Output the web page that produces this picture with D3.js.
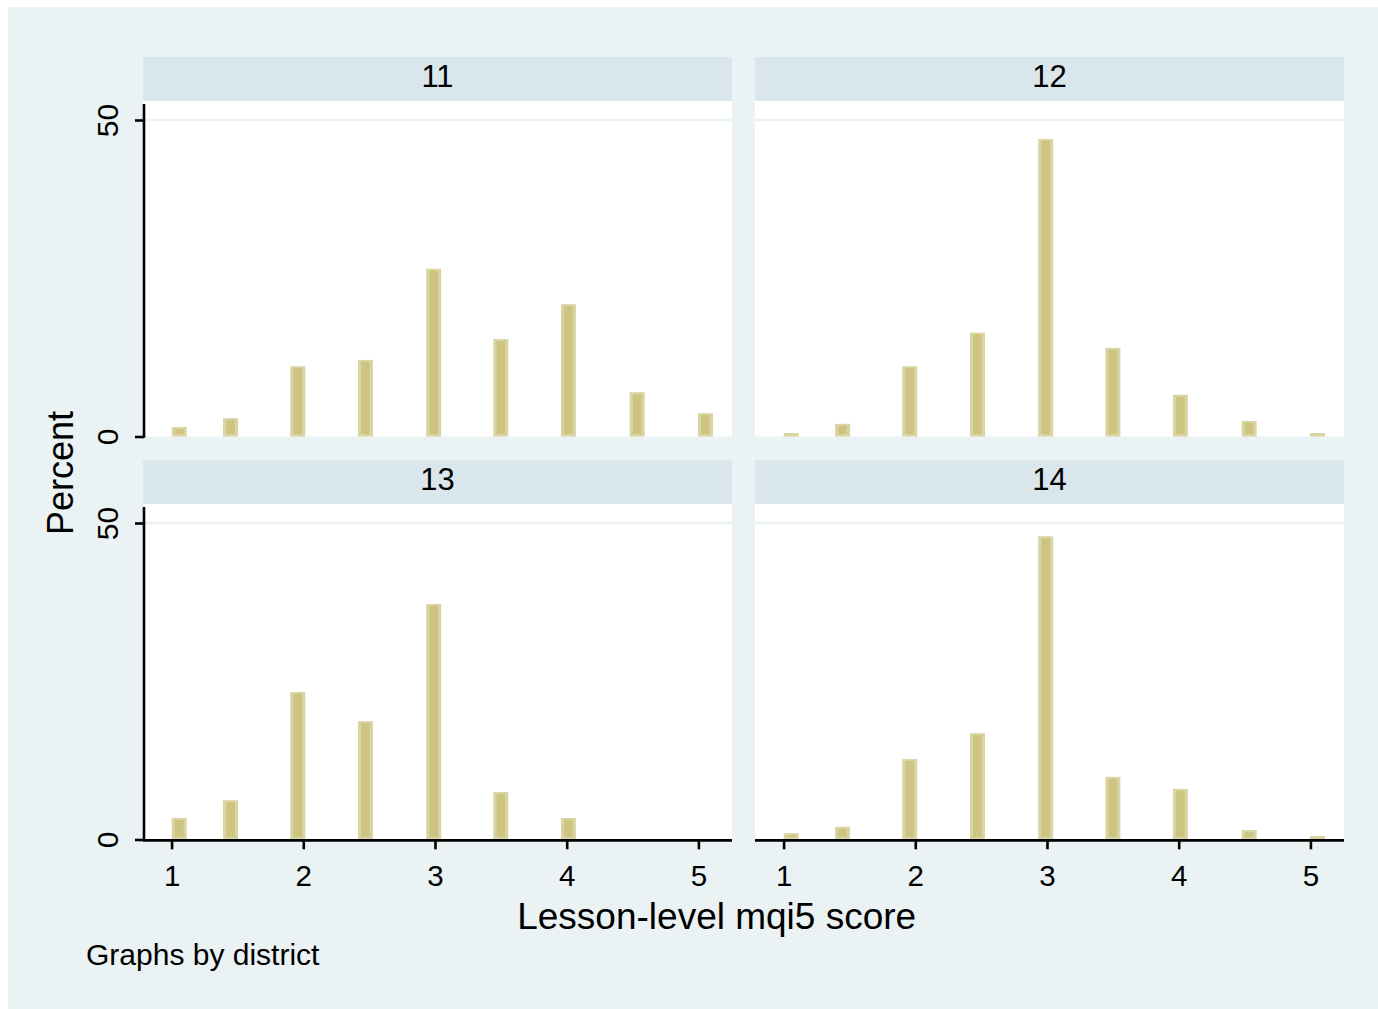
<!DOCTYPE html>
<html>
<head>
<meta charset="utf-8">
<script src="https://cdn.jsdelivr.net/npm/d3@7"></script>
<style>
  html, body { margin: 0; padding: 0; background: #ffffff; }
  svg { display: block; font-family: "Liberation Sans", Arial, sans-serif; }
</style>
</head>
<body>
<svg id="chart" width="1378" height="1009"></svg>
<script>
// ---- data ----
const binCenters = [1.058, 1.448, 1.958, 2.472, 2.99, 3.5, 4.013, 4.535, 5.053];
const districts = ["11", "12", "13", "14"];
const pct11 = [1.5, 2.9, 11.1, 12.1, 26.5, 15.4, 20.9, 7.0, 3.7];
const pct12 = [0.55, 2.0, 11.1, 16.4, 47.0, 14.0, 6.6, 2.45, 0.55];
const pct13 = [3.4, 6.2, 23.3, 18.7, 37.2, 7.5, 3.4, 0, 0];
const pct14 = [1.0, 2.0, 12.7, 16.8, 47.9, 9.9, 8.0, 1.5, 0.55];
const xTickValues = [1, 2, 3, 4, 5];
const yTickValues = [0, 50];
const xTitle = "Lesson-level mqi5 score";
const yTitle = "Percent";
const noteText = "Graphs by district";

// ---- layout ----
const W = 1378, H = 1009;
const colX = [143, 755];
const rowY = [57, 460];
const panelW = 589, stripH = 44, plotH = 335.5;
const bgColor = "#EAF2F3", stripColor = "#D9E6EB";
const barOuter = "#D9D4A2", barInner = "#CCC480";

const series = [pct11, pct12, pct13, pct14];
const svg = d3.select("#chart");

svg.append("rect").attr("x", 0).attr("y", 0).attr("width", W).attr("height", H).attr("fill", "#ffffff");
svg.append("rect").attr("x", 8).attr("y", 7).attr("width", W - 8).attr("height", H - 7).attr("fill", bgColor);

districts.forEach((d, i) => {
  const col = i % 2, row = Math.floor(i / 2);
  const x0 = colX[col], top = rowY[row];
  const plotTop = top + stripH, plotBottom = plotTop + plotH;
  const x = d3.scaleLinear().domain([0.783, 5.255]).range([x0, x0 + panelW]);
  const y = d3.scaleLinear().domain([0, 53]).range([plotBottom, plotTop]);
  const g = svg.append("g");

  // strip
  g.append("rect").attr("x", x0).attr("y", top).attr("width", panelW).attr("height", stripH).attr("fill", stripColor);
  g.append("text").attr("x", x0 + panelW / 2).attr("y", top + 29.5)
    .attr("text-anchor", "middle").attr("font-size", 31).attr("fill", "#000").text(d);

  // plot region
  g.append("rect").attr("x", x0).attr("y", plotTop).attr("width", panelW).attr("height", plotH).attr("fill", "#ffffff");

  // grid line
  g.append("g").selectAll("line").data(yTickValues.filter(v => v > 0)).join("line")
    .attr("x1", x0).attr("x2", x0 + panelW)
    .attr("y1", v => y(v)).attr("y2", v => y(v))
    .attr("stroke", bgColor).attr("stroke-width", 2.7);

  // bars
  const bw = 15;
  const bars = g.append("g").selectAll("g").data(series[i].map((v, k) => ({ x: binCenters[k], v })))
    .join("g").filter(b => b.v > 0);
  bars.append("rect")
    .attr("x", b => x(b.x) - bw / 2).attr("width", bw)
    .attr("y", b => y(b.v)).attr("height", b => y(0) - y(b.v))
    .attr("fill", barOuter);
  bars.append("rect")
    .attr("x", b => x(b.x) - bw / 2 + 3.2).attr("width", bw - 6.4)
    .attr("y", b => y(b.v) + 2).attr("height", b => Math.max(0, y(0) - y(b.v) - 4.5))
    .attr("fill", barInner);

  // y axis on left column
  if (col === 0) {
    const ya = g.append("g").attr("transform", `translate(${x0 + 1},0)`)
      .call(d3.axisLeft(y).tickValues(yTickValues).tickSize(9).tickFormat(d3.format("d")));
    ya.select(".domain").remove();
    ya.selectAll(".tick line").attr("stroke", "#000").attr("stroke-width", 2.6);
    ya.selectAll(".tick text")
      .attr("transform", "rotate(-90)")
      .attr("x", 0).attr("y", -26).attr("dy", 0)
      .attr("text-anchor", "middle")
      .attr("font-size", 30).attr("fill", "#000")
      .style("font-family", "'Liberation Sans', Arial, sans-serif");
    g.append("line").attr("x1", x0 + 1).attr("x2", x0 + 1)
      .attr("y1", plotTop + 3).attr("y2", plotBottom + 1.3)
      .attr("stroke", "#000").attr("stroke-width", 2.6);
  }

  // x axis on bottom row
  if (row === 1) {
    const xa = g.append("g").attr("transform", `translate(0,${plotBottom + 0.8})`)
      .call(d3.axisBottom(x).tickValues(xTickValues).tickSize(9).tickFormat(d3.format("d")));
    xa.select(".domain").remove();
    xa.selectAll(".tick line").attr("stroke", "#000").attr("stroke-width", 2.6);
    xa.selectAll(".tick text")
      .attr("y", 45.5).attr("dy", 0)
      .attr("font-size", 29.5).attr("fill", "#000")
      .style("font-family", "'Liberation Sans', Arial, sans-serif");
    g.append("line").attr("x1", x0).attr("x2", x0 + panelW)
      .attr("y1", plotBottom + 0.8).attr("y2", plotBottom + 0.8)
      .attr("stroke", "#000").attr("stroke-width", 2.7);
  }
});

// titles
svg.append("text").attr("x", 716.7).attr("y", 929.3).attr("text-anchor", "middle")
  .attr("font-size", 37).attr("fill", "#000").text(xTitle);
svg.append("text").attr("transform", "translate(72.5,473) rotate(-90)")
  .attr("text-anchor", "middle").attr("font-size", 36).attr("fill", "#000").text(yTitle);
svg.append("text").attr("x", 86).attr("y", 965)
  .attr("font-size", 30).attr("fill", "#000").text(noteText);
</script>
</body>
</html>
